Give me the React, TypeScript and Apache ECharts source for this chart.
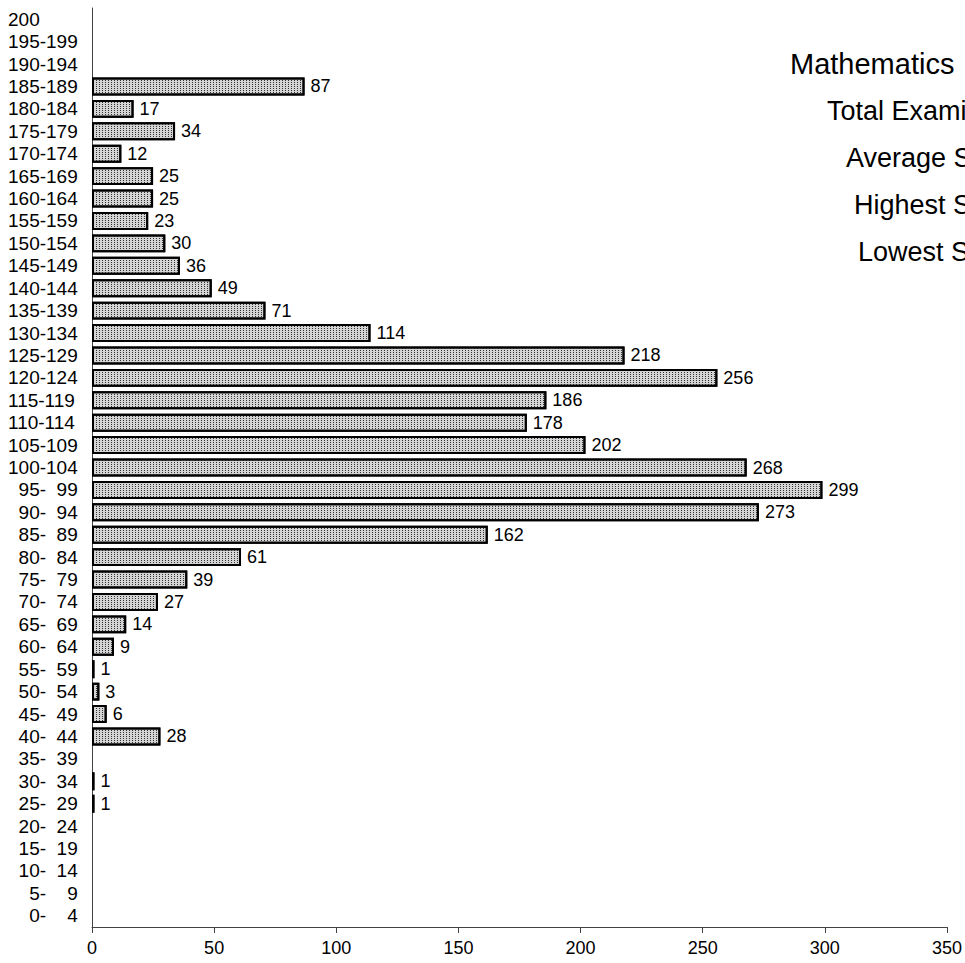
import React, { useEffect, useRef } from "react";
import * as echarts from "echarts";

const FS = "\u2007";
const categories = [
  `${FS}${FS}0-${FS}${FS}4`, `${FS}${FS}5-${FS}${FS}9`, `${FS}10-${FS}14`, `${FS}15-${FS}19`, `${FS}20-${FS}24`,
  `${FS}25-${FS}29`, `${FS}30-${FS}34`, `${FS}35-${FS}39`, `${FS}40-${FS}44`, `${FS}45-${FS}49`,
  `${FS}50-${FS}54`, `${FS}55-${FS}59`, `${FS}60-${FS}64`, `${FS}65-${FS}69`, `${FS}70-${FS}74`,
  `${FS}75-${FS}79`, `${FS}80-${FS}84`, `${FS}85-${FS}89`, `${FS}90-${FS}94`, `${FS}95-${FS}99`,
  "100-104", "105-109", "110-114", "115-119", "120-124", "125-129", "130-134", "135-139",
  "140-144", "145-149", "150-154", "155-159", "160-164", "165-169", "170-174", "175-179",
  "180-184", "185-189", "190-194", "195-199", "200",
];
const counts = [
  0, 0, 0, 0, 0, 1, 1, 0,
  28, 6, 3, 1, 9, 14, 27, 39,
  61, 162, 273, 299, 268, 202, 178, 186,
  256, 218, 114, 71, 49, 36, 30, 23,
  25, 25, 12, 34, 17, 87, 0, 0, 0,
];
const xTicks = { min: 0, max: 350, interval: 50 };
const infoLines = [
  "Mathematics\u3000Score Distribution",
  "Total Examinees: 2,755",
  "Average Score: 105.3",
  "Highest Score: 189",
  "Lowest Score: 25",
];
const infoX = [790, 827, 846, 854, 858];
const infoY = [66, 113, 160, 207, 254];
const infoSize = [29, 27, 27, 27, 27];

const FONT = "'Liberation Sans', Arial, sans-serif";

export default function App() {
  const ref = useRef<HTMLDivElement>(null);
  useEffect(() => {
    if (!ref.current) return;
    const chart = echarts.init(ref.current, null, { renderer: "svg" });
    chart.setOption({
      animation: false,
      backgroundColor: "#ffffff",
      grid: { left: 92, right: 18, top: 8, bottom: 36, containLabel: false },
      xAxis: {
        type: "value",
        min: xTicks.min,
        max: xTicks.max,
        interval: xTicks.interval,
        splitLine: { show: false },
        axisLine: { show: true, lineStyle: { color: "#444", width: 1 } },
        axisTick: { show: true, length: 6, lineStyle: { color: "#444" } },
        axisLabel: { color: "#000", fontSize: 18, fontFamily: FONT, margin: 12 },
      },
      yAxis: {
        type: "category",
        data: categories,
        axisLine: { show: true, lineStyle: { color: "#444", width: 1 } },
        axisTick: { show: false },
        axisLabel: {
          color: "#000",
          fontSize: 19,
          fontFamily: FONT,
          margin: 84,
          align: "left",
          interval: 0,
        },
      },
      graphic: infoLines.map((t, i) => ({
        type: "text",
        left: infoX[i],
        top: infoY[i] - infoSize[i] * 0.56,
        style: { text: t, fontSize: infoSize[i], fontFamily: FONT, fill: "#000" },
      })),
      series: [
        {
          type: "bar",
          data: counts.map((v) => (v === 0 ? "-" : v)),
          barWidth: "80%",
          itemStyle: {
            color: "#d4d4d4",
            borderColor: "#000",
            borderWidth: 2,
            decal: {
              symbol: "rect",
              symbolSize: 1,
              dashArrayX: [1, 2],
              dashArrayY: [1, 1],
              color: "#333333",
              rotation: 0,
            },
          },
          label: {
            show: true,
            position: "right",
            distance: 6,
            color: "#000",
            fontSize: 18,
            fontFamily: FONT,
          },
        },
      ],
    });
    return () => chart.dispose();
  }, []);
  return <div ref={ref} style={{ width: 965, height: 963, position: "absolute", left: 0, top: 0 }} />;
}
